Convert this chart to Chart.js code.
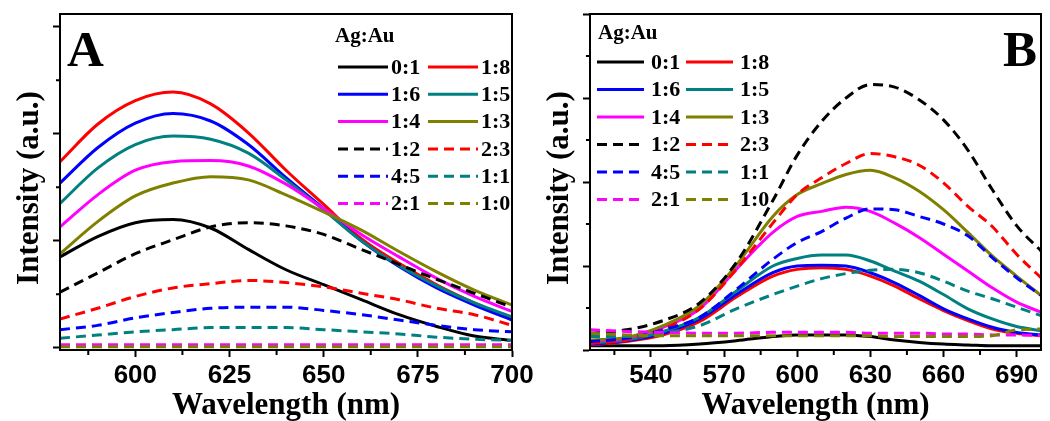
<!DOCTYPE html>
<html>
<head>
<meta charset="utf-8">
<script src="https://cdn.jsdelivr.net/npm/chart.js@4.4.1/dist/chart.umd.min.js"></script>
<style>
  html, body { margin: 0; padding: 0; background: #fff; }
  #wrap { position: relative; width: 1050px; height: 421px; overflow: hidden; }
  #panel-a { position: absolute; left: 0; top: 0; }
  #panel-b { position: absolute; left: 525px; top: 0; }
</style>
</head>
<body>
<div id="wrap">
  <canvas id="panel-a" width="560" height="421"></canvas>
  <canvas id="panel-b" width="525" height="421"></canvas>
</div>
<script>
// Ag:Au ratios, same order in both panels (two legend columns, read row by row)
const ratioLabels = ["0:1", "1:8", "1:6", "1:5", "1:4", "1:3", "1:2", "2:3", "4:5", "1:1", "2:1", "1:0"];
const seriesColors = ["#000000", "#ff0000", "#0000ff", "#008080", "#ff00ff", "#808000",
                      "#000000", "#ff0000", "#0000ff", "#008080", "#ff00ff", "#808000"];
const dashedSeries = [false, false, false, false, false, false, true, true, true, true, true, true];

// panel A
const wavelengthA = [580, 590, 600, 610, 620, 630, 640, 650, 660, 670, 680, 690, 700];
const aRatio01 = [85, 104, 117, 120, 112, 92, 73, 59, 45, 31, 20, 11, 7];
const aRatio18 = [174, 209, 231, 239, 228, 201, 166, 134, 102, 79, 59, 42, 27];
const aRatio16 = [154, 187, 210, 219, 212, 190, 159, 130, 100, 76, 56, 40, 26];
const aRatio15 = [135, 168, 190, 198, 195, 182, 157, 129, 100, 77, 58, 42, 29];
const aRatio14 = [113, 143, 166, 174, 175, 170, 153, 130, 106, 85, 65, 48, 34];
const aRatio13 = [88, 118, 142, 154, 160, 157, 143, 127, 110, 90, 71, 54, 40];
const aRatio12 = [52, 70, 88, 101, 113, 117, 114, 106, 92, 78, 64, 51, 38];
const aRatio23 = [27, 37, 48, 56, 60, 63, 61, 57, 51, 45, 37, 31, 21];
const aRatio45 = [17, 21, 28, 33, 37, 38, 38, 35, 31, 26, 21, 17, 15];
const aRatio11 = [9, 12, 15, 17, 19, 19, 19, 17, 15, 13, 10, 8, 7];
const aRatio21 = [3, 3, 3, 3, 3, 3, 3, 3, 3, 3, 3, 3, 3];
const aRatio10 = [1, 1, 1, 1, 1, 1, 1, 1, 1, 1, 1, 1, 1];
const xTicksA = [600, 625, 650, 675, 700];
const xMinorA = [587.5, 612.5, 637.5, 662.5, 687.5];
const yTicksA = [0, 100, 200, 300];
const yMinorA = [50, 150, 250];

// panel B
const wavelengthB = [515, 530, 545, 560, 575, 590, 600, 610, 620, 630, 640, 650, 660, 670, 680, 690, 700];
const bRatio01 = [5, 5, 5, 7, 11, 16, 18, 18, 18, 16, 12, 9, 7, 6, 5, 5, 5];
const bRatio18 = [6, 10, 18, 34, 63, 88, 96, 98, 96, 88, 76, 61, 47, 35, 25, 20, 17];
const bRatio16 = [7, 11, 20, 37, 66, 92, 100, 101, 100, 92, 80, 65, 49, 37, 27, 21, 18];
const bRatio15 = [8, 12, 22, 39, 70, 100, 109, 113, 113, 106, 94, 82, 66, 49, 37, 28, 23];
const bRatio14 = [10, 14, 27, 49, 96, 140, 159, 165, 170, 165, 151, 134, 114, 94, 74, 57, 45];
const bRatio13 = [12, 15, 29, 53, 101, 159, 185, 198, 209, 214, 205, 189, 167, 140, 112, 88, 65];
const bRatio12 = [20, 24, 35, 56, 104, 178, 232, 272, 300, 316, 313, 298, 274, 238, 191, 148, 118];
const bRatio23 = [8, 12, 25, 49, 96, 151, 185, 205, 222, 234, 230, 220, 199, 171, 147, 114, 86];
const bRatio45 = [10, 14, 24, 39, 72, 108, 128, 141, 157, 168, 167, 159, 150, 136, 110, 86, 65];
const bRatio11 = [16, 16, 20, 29, 49, 66, 76, 85, 91, 95, 96, 92, 82, 70, 61, 51, 41];
const bRatio21 = [24, 22, 21, 20, 20, 21, 21, 21, 21, 20, 20, 20, 19, 19, 18, 18, 17];
const bRatio10 = [20, 18, 17, 17, 17, 17, 17, 17, 17, 17, 16, 16, 16, 16, 17, 24, 25];
const xTicksB = [540, 570, 600, 630, 660, 690];
const xMinorB = [525, 555, 585, 615, 645, 675];
const yTicksB = [0, 100, 200, 300, 400];
const yMinorB = [50, 150, 250, 350];

const serifFont = "'Liberation Serif', 'Times New Roman', serif";
const sansFont = "'Liberation Sans', Arial, sans-serif";

// frame, minor ticks, y title, panel letter and the two-column legend
const panelDecor = {
  id: "panelDecor",
  afterDraw(chart, args, opts) {
    const ctx = chart.ctx;
    const area = chart.chartArea;
    const xScale = chart.scales.x;
    const yScale = chart.scales.y;
    ctx.save();

    ctx.strokeStyle = "#000";
    ctx.lineWidth = 2;
    ctx.setLineDash([]);
    ctx.strokeRect(area.left, area.top, area.right - area.left, area.bottom - area.top);

    ctx.beginPath();
    for (const v of opts.minorX) {
      const px = xScale.getPixelForValue(v);
      ctx.moveTo(px, area.bottom);
      ctx.lineTo(px, area.bottom + 5);
    }
    for (const v of opts.minorY) {
      const py = yScale.getPixelForValue(v);
      ctx.moveTo(area.left, py);
      ctx.lineTo(area.left - 4, py);
    }
    ctx.stroke();

    ctx.fillStyle = "#000";
    ctx.save();
    ctx.translate(opts.yTitleX, opts.yTitleY);
    ctx.rotate(-Math.PI / 2);
    ctx.textAlign = "center";
    ctx.textBaseline = "middle";
    ctx.font = `bold 31px ${serifFont}`;
    ctx.fillText("Intensity (a.u.)", 0, 0);
    ctx.restore();

    ctx.textAlign = "left";
    ctx.textBaseline = "alphabetic";
    ctx.font = `bold 51px ${serifFont}`;
    ctx.fillText(opts.letter, opts.letterX, opts.letterY);

    const lg = opts.legend;
    ctx.textBaseline = "middle";
    ctx.font = `bold 21px ${serifFont}`;
    ctx.fillText("Ag:Au", lg.titleX, lg.titleY);

    ctx.font = `bold 22px ${serifFont}`;
    chart.data.datasets.forEach((ds, i) => {
      const row = Math.floor(i / 2);
      const x0 = lg.colX[i % 2];
      const y = lg.rowY + row * lg.rowGap;
      ctx.strokeStyle = ds.borderColor;
      ctx.lineWidth = 3;
      ctx.setLineDash(ds.borderDash || []);
      ctx.beginPath();
      ctx.moveTo(x0, y);
      ctx.lineTo(x0 + lg.lineLen, y);
      ctx.stroke();
      ctx.fillText(ds.label, x0 + lg.lineLen + lg.gap, y + 1);
    });

    ctx.restore();
  },
};

function buildDatasets(wavelengths, seriesList) {
  return seriesList.map((values, i) => ({
    label: ratioLabels[i],
    data: wavelengths.map((w, j) => ({ x: w, y: values[j] })),
    borderColor: seriesColors[i],
    borderWidth: 3,
    borderDash: dashedSeries[i] ? [10, 6] : [],
    pointRadius: 0,
    fill: false,
    cubicInterpolationMode: "monotone",
    order: -i,
  }));
}

function makePanel(canvasId, p) {
  return new Chart(document.getElementById(canvasId), {
    type: "line",
    data: { datasets: buildDatasets(p.wavelengths, p.series) },
    options: {
      responsive: false,
      devicePixelRatio: 1,
      animation: false,
      layout: { padding: { top: 14, right: p.padRight, bottom: 0, left: 0 } },
      plugins: {
        legend: { display: false },
        tooltip: { enabled: false },
        panelDecor: p.decor,
      },
      scales: {
        x: {
          type: "linear",
          min: p.xMin,
          max: p.xMax,
          afterBuildTicks(scale) {
            scale.ticks = p.xTicks.map((v) => ({ value: v }));
          },
          afterFit(scale) {
            scale.height = 71;
          },
          grid: { drawOnChartArea: false, drawTicks: true, tickLength: 7, tickWidth: 2, tickColor: "#000" },
          border: { color: "#000", width: 2 },
          ticks: {
            color: "#000",
            padding: 3,
            maxRotation: 0,
            autoSkip: false,
            font: { family: sansFont, size: 26, weight: "bold" },
          },
          title: {
            display: true,
            text: "Wavelength (nm)",
            color: "#000",
            padding: { top: 0, bottom: 0 },
            font: { family: serifFont, size: 31, weight: "bold", lineHeight: 1 },
          },
        },
        y: {
          type: "linear",
          min: p.yMin,
          max: p.yMax,
          afterBuildTicks(scale) {
            scale.ticks = p.yTicks.map((v) => ({ value: v }));
          },
          afterFit(scale) {
            scale.width = p.yWidth;
          },
          grid: { drawOnChartArea: false, drawTicks: true, tickLength: 7, tickWidth: 2, tickColor: "#000" },
          border: { color: "#000", width: 2 },
          ticks: { display: false },
        },
      },
    },
    plugins: [panelDecor],
  });
}

makePanel("panel-a", {
  wavelengths: wavelengthA,
  series: [aRatio01, aRatio18, aRatio16, aRatio15, aRatio14, aRatio13,
           aRatio12, aRatio23, aRatio45, aRatio11, aRatio21, aRatio10],
  xMin: 580, xMax: 700, xTicks: xTicksA,
  yMin: -2, yMax: 312, yTicks: yTicksA,
  yWidth: 60, padRight: 48,
  decor: {
    minorX: xMinorA, minorY: yMinorA,
    yTitleX: 30, yTitleY: 188,
    letter: "A", letterX: 67, letterY: 66,
    legend: { titleX: 335, titleY: 37, rowY: 67, rowGap: 27.3, colX: [338, 428], lineLen: 50, gap: 3 },
  },
});

makePanel("panel-b", {
  wavelengths: wavelengthB,
  series: [bRatio01, bRatio18, bRatio16, bRatio15, bRatio14, bRatio13,
           bRatio12, bRatio23, bRatio45, bRatio11, bRatio21, bRatio10],
  xMin: 515, xMax: 700, xTicks: xTicksB,
  yMin: 0, yMax: 400, yTicks: yTicksB,
  yWidth: 65, padRight: 9,
  decor: {
    minorX: xMinorB, minorY: yMinorB,
    yTitleX: 35, yTitleY: 188,
    letter: "B", letterX: 478, letterY: 66,
    legend: { titleX: 73, titleY: 34, rowY: 62, rowGap: 27.5, colX: [72, 161], lineLen: 47, gap: 7 },
  },
});
</script>
</body>
</html>
